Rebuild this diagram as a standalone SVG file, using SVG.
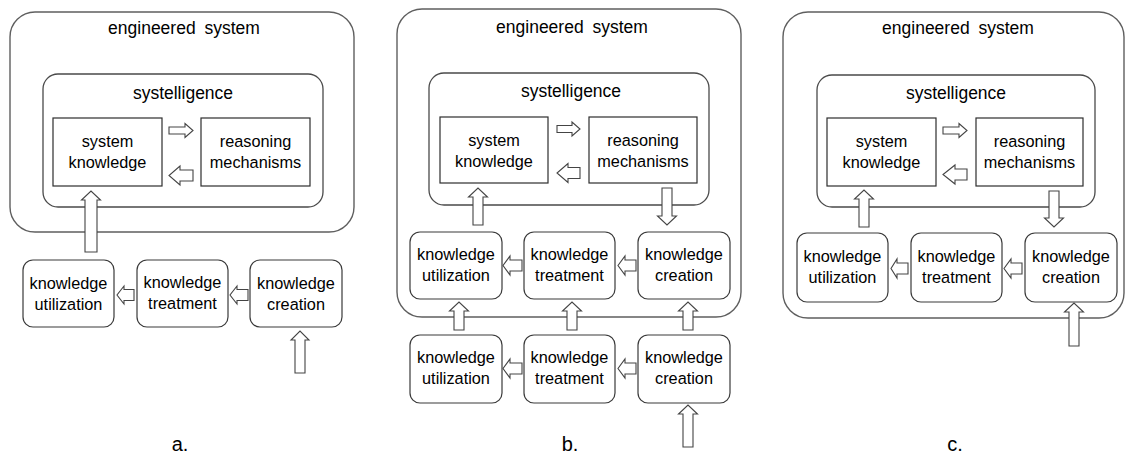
<svg xmlns="http://www.w3.org/2000/svg" width="1125" height="455" viewBox="0 0 1125 455">
<style>
.outer{fill:#fff;stroke:#5f5f5f;stroke-width:1.4}
.inner{fill:#fff;stroke:#4a4a4a;stroke-width:1.3}
.sq{fill:#fff;stroke:#2e2e2e;stroke-width:1.2}
.kb{fill:#fff;stroke:#3a3a3a;stroke-width:1.2}
.ar{fill:#fff;stroke:#444;stroke-width:1.1;stroke-linejoin:miter}
text{font-family:"Liberation Sans",Arial,sans-serif;fill:#000;text-anchor:middle}
.t1{font-size:17.5px;word-spacing:4px}
.t2{font-size:17.5px}
.t3{font-size:16.3px}
.lb{font-size:20px}
</style>
<rect width="1125" height="455" fill="#fff"/>

<!-- Panel a -->
<g id="a-engineered">
<rect class="outer" x="10" y="12" width="344" height="220" rx="25"/>
<text class="t1" x="184" y="34">engineered system</text>
</g>
<g id="a-systelligence">
<rect class="inner" x="43" y="74" width="280" height="133" rx="15"/>
<text class="t2" x="183" y="99">systelligence</text>
</g>
<g id="a-sysknow">
<rect class="sq" x="53" y="118" width="109" height="68"/>
<text class="t3" x="107.5" y="147">system</text>
<text class="t3" x="107.5" y="168">knowledge</text>
</g>
<g id="a-reason">
<rect class="sq" x="201" y="118" width="109" height="68"/>
<text class="t3" x="255.5" y="147">reasoning</text>
<text class="t3" x="255.5" y="168">mechanisms</text>
</g>
<g id="a-util">
<rect class="kb" x="23" y="260" width="91" height="67" rx="10"/>
<text class="t3" x="68.5" y="289">knowledge</text>
<text class="t3" x="68.5" y="310">utilization</text>
</g>
<g id="a-treat">
<rect class="kb" x="137" y="260" width="91" height="67" rx="10"/>
<text class="t3" x="182.5" y="288">knowledge</text>
<text class="t3" x="182.5" y="309">treatment</text>
</g>
<g id="a-create">
<rect class="kb" x="250" y="260" width="92" height="67" rx="10"/>
<text class="t3" x="296" y="289">knowledge</text>
<text class="t3" x="296" y="310">creation</text>
</g>
<text class="lb" x="180" y="451">a.</text>

<!-- Panel b -->
<g id="b-engineered">
<rect class="outer" x="397" y="9" width="344" height="308" rx="25"/>
<text class="t1" x="572" y="33">engineered system</text>
</g>
<g id="b-systelligence">
<rect class="inner" x="429" y="73" width="280" height="132" rx="15"/>
<text class="t2" x="571" y="97">systelligence</text>
</g>
<g id="b-sysknow">
<rect class="sq" x="440" y="117" width="108" height="66"/>
<text class="t3" x="494" y="146">system</text>
<text class="t3" x="494" y="167">knowledge</text>
</g>
<g id="b-reason">
<rect class="sq" x="589" y="117" width="108" height="66"/>
<text class="t3" x="643" y="146">reasoning</text>
<text class="t3" x="643" y="167">mechanisms</text>
</g>
<g id="b-util1">
<rect class="kb" x="410" y="232" width="92" height="67" rx="10"/>
<text class="t3" x="456" y="260">knowledge</text>
<text class="t3" x="456" y="281">utilization</text>
</g>
<g id="b-treat1">
<rect class="kb" x="524" y="232" width="91" height="67" rx="10"/>
<text class="t3" x="569.5" y="260">knowledge</text>
<text class="t3" x="569.5" y="281">treatment</text>
</g>
<g id="b-create1">
<rect class="kb" x="638" y="232" width="92" height="67" rx="10"/>
<text class="t3" x="684" y="260">knowledge</text>
<text class="t3" x="684" y="281">creation</text>
</g>
<g id="b-util2">
<rect class="kb" x="410" y="335" width="92" height="68" rx="10"/>
<text class="t3" x="456" y="363">knowledge</text>
<text class="t3" x="456" y="384">utilization</text>
</g>
<g id="b-treat2">
<rect class="kb" x="524" y="335" width="91" height="68" rx="10"/>
<text class="t3" x="569.5" y="363">knowledge</text>
<text class="t3" x="569.5" y="384">treatment</text>
</g>
<g id="b-create2">
<rect class="kb" x="638" y="335" width="92" height="68" rx="10"/>
<text class="t3" x="684" y="363">knowledge</text>
<text class="t3" x="684" y="384">creation</text>
</g>
<text class="lb" x="570" y="451">b.</text>

<!-- Panel c -->
<g id="c-engineered">
<rect class="outer" x="783" y="12" width="341" height="306" rx="25"/>
<text class="t1" x="958" y="34">engineered system</text>
</g>
<g id="c-systelligence">
<rect class="inner" x="817" y="75" width="278" height="132" rx="15"/>
<text class="t2" x="956" y="99">systelligence</text>
</g>
<g id="c-sysknow">
<rect class="sq" x="827" y="118" width="109" height="68"/>
<text class="t3" x="881.5" y="147">system</text>
<text class="t3" x="881.5" y="168">knowledge</text>
</g>
<g id="c-reason">
<rect class="sq" x="976" y="118" width="107" height="68"/>
<text class="t3" x="1029.5" y="147">reasoning</text>
<text class="t3" x="1029.5" y="168">mechanisms</text>
</g>
<g id="c-util">
<rect class="kb" x="797" y="233" width="91" height="69" rx="10"/>
<text class="t3" x="842.5" y="262">knowledge</text>
<text class="t3" x="842.5" y="283">utilization</text>
</g>
<g id="c-treat">
<rect class="kb" x="911" y="233" width="91" height="69" rx="10"/>
<text class="t3" x="956.5" y="262">knowledge</text>
<text class="t3" x="956.5" y="283">treatment</text>
</g>
<g id="c-create">
<rect class="kb" x="1025" y="233" width="92" height="69" rx="10"/>
<text class="t3" x="1071" y="262">knowledge</text>
<text class="t3" x="1071" y="283">creation</text>
</g>
<text class="lb" x="955" y="451">c.</text>

<!-- Connectors (block arrows) -->
<g id="connectors">
<!-- panel a -->
<polygon class="ar" points="169,127 185,127 185,123.5 193,130.5 185,137.5 185,134 169,134"/>
<polygon class="ar" points="193,170 180,170 180,166 169,175.5 180,185 180,181 193,181"/>
<polygon class="ar" points="85,252 85,200 81.5,200 91,191 100.5,200 97,200 97,252"/>
<polygon class="ar" points="134,289.5 124,289.5 124,286 117,295 124,304 124,300.5 134,300.5"/>
<polygon class="ar" points="248,289.5 237,289.5 237,286 230,295 237,304 237,300.5 248,300.5"/>
<polygon class="ar" points="295,373 295,340 291,340 300,331 309,340 305,340 305,373"/>
<!-- panel b -->
<polygon class="ar" points="557,125.5 572,125.5 572,122 580,129 572,136 572,132.5 557,132.5"/>
<polygon class="ar" points="580,167.5 568,167.5 568,163.5 557,173 568,182.5 568,178.5 580,178.5"/>
<polygon class="ar" points="473,225 473,197 468.5,197 478,188 487.5,197 483,197 483,225"/>
<polygon class="ar" points="662,188 662,216 657.5,216 667,225 676.5,216 672,216 672,188"/>
<polygon class="ar" points="522,260 510,260 510,256 503,265.5 510,275 510,271 522,271"/>
<polygon class="ar" points="636,260 625,260 625,256 618,265.5 625,275 625,271 636,271"/>
<polygon class="ar" points="454,330 454,311 449.5,311 459,302 468.5,311 464,311 464,330"/>
<polygon class="ar" points="567,330 567,311 562.5,311 572,302 581.5,311 577,311 577,330"/>
<polygon class="ar" points="683,330 683,311 678.5,311 688,302 697.5,311 693,311 693,330"/>
<polygon class="ar" points="522,363 510,363 510,359 503,368.5 510,378 510,374 522,374"/>
<polygon class="ar" points="636,363 625,363 625,359 618,368.5 625,378 625,374 636,374"/>
<polygon class="ar" points="683,447 683,414 678.5,414 688,405 697.5,414 693,414 693,447"/>
<!-- panel c -->
<polygon class="ar" points="943,127 959,127 959,123.5 967,130.5 959,137.5 959,134 943,134"/>
<polygon class="ar" points="967,169 955,169 955,165 943,174.5 955,184 955,180 967,180"/>
<polygon class="ar" points="859,227 859,199 854.5,199 864,190 873.5,199 869,199 869,227"/>
<polygon class="ar" points="1049,191 1049,218 1044.5,218 1054,227 1063.5,218 1059,218 1059,191"/>
<polygon class="ar" points="908,263 897,263 897,259 891,268.5 897,278 897,274 908,274"/>
<polygon class="ar" points="1022,263 1011,263 1011,259 1004,268.5 1011,278 1011,274 1022,274"/>
<polygon class="ar" points="1069,346 1069,312 1064.5,312 1074,303 1083.5,312 1079,312 1079,346"/>
</g>
</svg>
